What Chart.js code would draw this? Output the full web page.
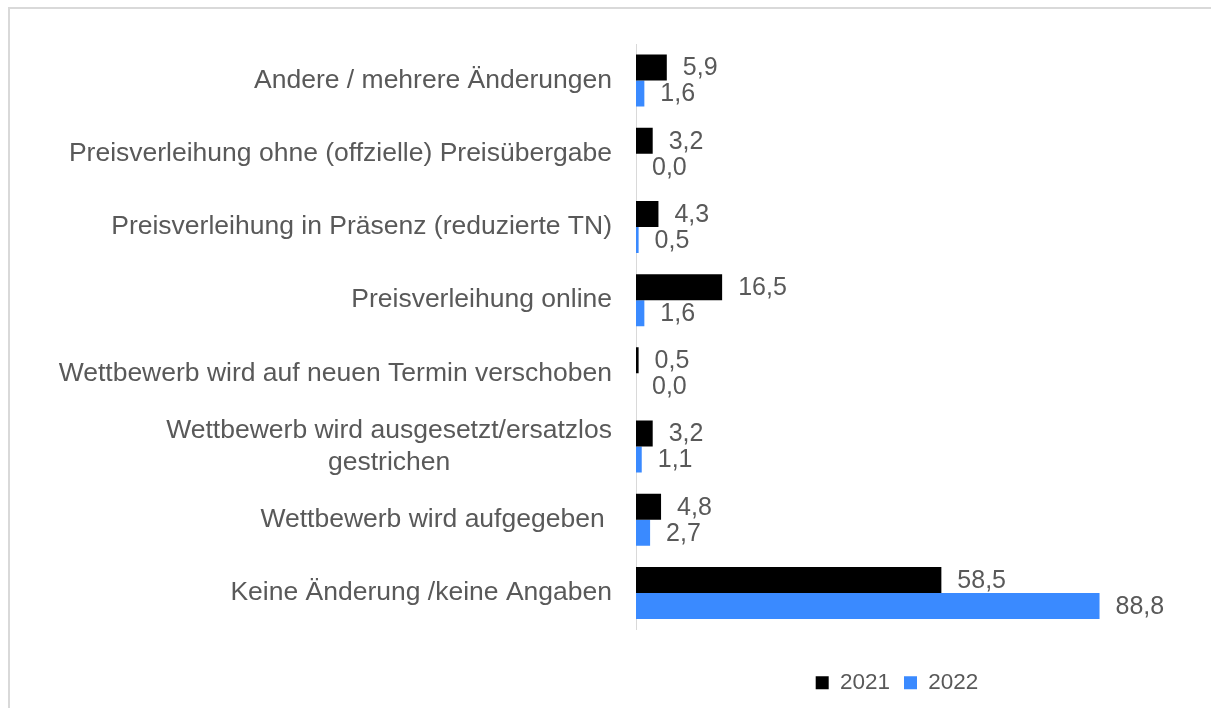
<!DOCTYPE html>
<html>
<head>
<meta charset="utf-8">
<script src="https://cdn.jsdelivr.net/npm/chart.js@4/dist/chart.umd.min.js"></script>
<style>
  html, body { margin: 0; padding: 0; background: #fff; }
  canvas { display: block; }
</style>
</head>
<body>
<canvas id="chart" width="1211" height="708"></canvas>
<script>
// categories, top to bottom
const categories = [
  "Andere / mehrere Änderungen",
  "Preisverleihung ohne (offzielle) Preisübergabe",
  "Preisverleihung in Präsenz (reduzierte TN)",
  "Preisverleihung online",
  "Wettbewerb wird auf neuen Termin verschoben",
  ["Wettbewerb wird ausgesetzt/ersatzlos", "gestrichen"],
  "Wettbewerb wird aufgegeben ",
  "Keine Änderung /keine Angaben"
];
const values2021 = [5.9, 3.2, 4.3, 16.5, 0.5, 3.2, 4.8, 58.5];
const values2022 = [1.6, 0.0, 0.5, 1.6, 0.0, 1.1, 2.7, 88.8];
const seriesNames = ["2021", "2022"];

const FONT = "Liberation Sans, Arial, sans-serif";
const TEXT = "#595959";

const fmt = v => v.toFixed(1).replace(".", ",");

// frame + category labels + value labels
const drawExtras = {
  id: "drawExtras",
  beforeDraw(chart) {
    const ctx = chart.ctx;
    ctx.save();
    ctx.strokeStyle = "#d9d9d9";
    ctx.lineWidth = 2;
    ctx.strokeRect(9, 8, 1400, 900);
    ctx.restore();
  },
  afterDatasetsDraw(chart) {
    const ctx = chart.ctx;
    const yScale = chart.scales.y;
    const right = chart.chartArea.left - 24;
    ctx.save();
    ctx.fillStyle = TEXT;
    ctx.textBaseline = "middle";

    // category labels (extra lines centred under the widest one)
    ctx.font = "26.5px " + FONT;
    categories.forEach((c, i) => {
      const lines = Array.isArray(c) ? c : [c];
      const y = yScale.getPixelForValue(i);
      const maxW = Math.max(...lines.map(l => ctx.measureText(l).width));
      const mid = right - maxW / 2;
      const lh = 32;
      ctx.textAlign = "center";
      lines.forEach((l, k) => {
        ctx.fillText(l, mid, y + (k - (lines.length - 1) / 2) * lh);
      });
    });

    // value labels
    ctx.font = "25px " + FONT;
    ctx.textAlign = "left";
    chart.data.datasets.forEach((ds, di) => {
      const meta = chart.getDatasetMeta(di);
      meta.data.forEach((bar, i) => {
        ctx.fillText(fmt(ds.data[i]), bar.x + 16, bar.y + 1);
      });
    });
    ctx.restore();
  }
};

new Chart(document.getElementById("chart").getContext("2d"), {
  type: "bar",
  data: {
    labels: categories,
    datasets: [
      { label: seriesNames[0], data: values2021, backgroundColor: "#000000", borderWidth: 0 },
      { label: seriesNames[1], data: values2022, backgroundColor: "#3a8aff", borderWidth: 0 }
    ]
  },
  options: {
    indexAxis: "y",
    responsive: false,
    animation: false,
    devicePixelRatio: 1,
    layout: { padding: { left: 636, right: 53, top: 44, bottom: 4 } },
    categoryPercentage: 0.71,
    barPercentage: 1,
    scales: {
      x: { display: false, min: 0, max: 100 },
      y: {
        grid: { display: false },
        ticks: { display: false },
        border: { display: true, color: "#d9d9d9", width: 1 },
        afterFit: s => { s.width = 0; }
      }
    },
    plugins: {
      tooltip: { enabled: false },
      legend: {
        position: "bottom",
        title: { display: true, text: "", font: { size: 1, lineHeight: 1 }, padding: { top: 27, bottom: 0 } },
        labels: {
          boxWidth: 13,
          boxHeight: 13,
          padding: 14,
          color: TEXT,
          font: { family: FONT, size: 22.5 }
        }
      }
    }
  },
  plugins: [drawExtras]
});
</script>
</body>
</html>
